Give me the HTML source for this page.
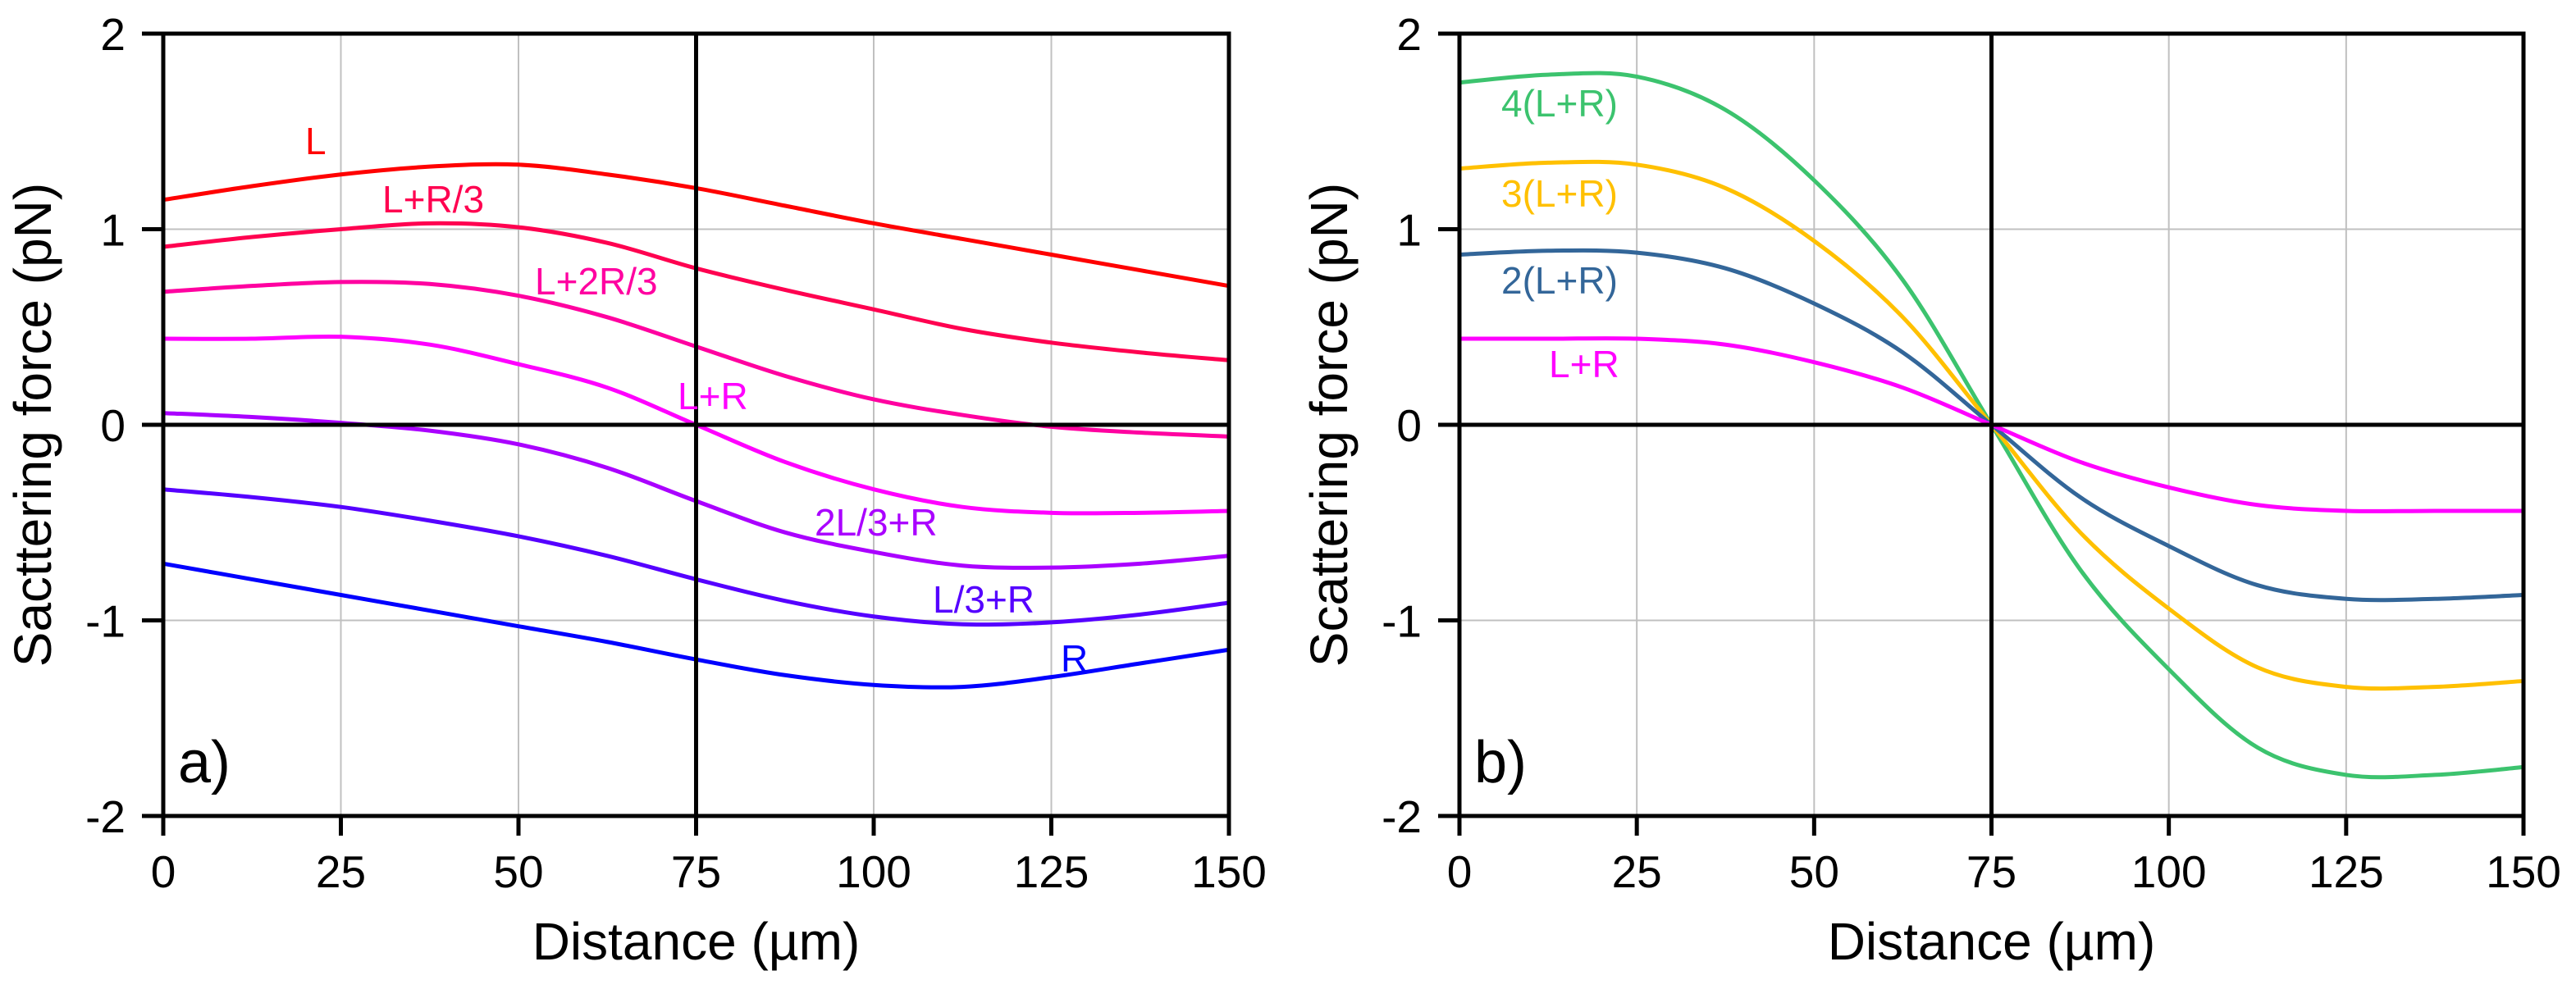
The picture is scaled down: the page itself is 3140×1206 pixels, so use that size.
<!DOCTYPE html>
<html><head><meta charset="utf-8"><style>
html,body{margin:0;padding:0;background:#fff;}
svg{display:block;font-family:"Liberation Sans",Arial,sans-serif;}
</style></head><body>
<svg id="fig" width="3140" height="1206" viewBox="0 0 3140 1206" xmlns="http://www.w3.org/2000/svg">
<g id="panelA"></g>
<g id="panelB"></g>
</svg>
<script>
const xs = [0,12.5,25,37.5,50,62.5,75,87.5,100,112.5,125,137.5,150];
const xTicks = [0,25,50,75,100,125,150];
const yTicks = [-2,-1,0,1,2];
const aL    = [1.15,1.22,1.28,1.32,1.33,1.28,1.21,1.12,1.03,0.95,0.87,0.79,0.71];
const aLR3  = [0.91,0.96,1.00,1.03,1.01,0.93,0.80,0.69,0.59,0.49,0.42,0.37,0.33];
const aL2R3 = [0.68,0.71,0.73,0.72,0.66,0.55,0.40,0.25,0.13,0.05,-0.01,-0.04,-0.06];
const aLR   = [0.44,0.44,0.45,0.41,0.31,0.19,0.0,-0.19,-0.33,-0.42,-0.45,-0.45,-0.44];
const a2L3R = [0.06,0.04,0.01,-0.03,-0.10,-0.22,-0.39,-0.55,-0.65,-0.72,-0.73,-0.71,-0.67];
const aL3R  = [-0.33,-0.37,-0.42,-0.49,-0.57,-0.67,-0.79,-0.90,-0.98,-1.02,-1.01,-0.97,-0.91];
const aR    = [-0.71,-0.79,-0.87,-0.95,-1.03,-1.11,-1.20,-1.28,-1.33,-1.34,-1.29,-1.22,-1.15];
const b1 = [0.44,0.44,0.44,0.41,0.32,0.19,0,-0.19,-0.32,-0.41,-0.44,-0.44,-0.44];
const b2 = [0.87,0.89,0.88,0.80,0.62,0.37,0,-0.37,-0.62,-0.82,-0.89,-0.89,-0.87];
const b3 = [1.31,1.34,1.33,1.21,0.94,0.55,0,-0.55,-0.94,-1.24,-1.34,-1.34,-1.31];
const b4 = [1.75,1.79,1.78,1.61,1.25,0.74,0,-0.74,-1.25,-1.65,-1.79,-1.79,-1.75];

const NS="http://www.w3.org/2000/svg";
function mk(parent,tag,attrs,text){const e=document.createElementNS(NS,tag);for(const k in attrs)e.setAttribute(k,attrs[k]);if(text!==undefined)e.textContent=text;parent.appendChild(e);return e;}

function panel(g,x0,x1,yTitle,series,labels,tag){
  const y0=41,y1=995;
  const sx=v=>x0+(v-0)/150*(x1-x0);
  const sy=v=>y0+(2-v)/4*(y1-y0);
  xTicks.forEach(t=>{if(t>0&&t<150&&t!==75){const l=mk(g,'line',{x1:sx(t),x2:sx(t),y1:y0,y2:y1,stroke:'#c0c0c0','stroke-width':2});
    
    }});
  yTicks.forEach(t=>{if(t===1||t===-1){const l=mk(g,'line',{x1:x0,x2:x1,y1:sy(t),y2:sy(t),stroke:'#c0c0c0','stroke-width':2});
    
    }});
  series.forEach(s=>{
    const pts=s.v.map((v,i)=>[sx(xs[i]),sy(v)]);
    let d='M'+pts[0][0]+','+pts[0][1];
    for(let i=0;i<pts.length-1;i++){
      const p0=pts[Math.max(0,i-1)],p1=pts[i],p2=pts[i+1],p3=pts[Math.min(pts.length-1,i+2)];
      const c1=[p1[0]+(p2[0]-p0[0])/6,p1[1]+(p2[1]-p0[1])/6];
      const c2=[p2[0]-(p3[0]-p1[0])/6,p2[1]-(p3[1]-p1[1])/6];
      d+=` C${c1[0]},${c1[1]} ${c2[0]},${c2[1]} ${p2[0]},${p2[1]}`;
    }
    const p=mk(g,'path',{d:d,fill:'none',stroke:s.c,'stroke-width':5,'stroke-linejoin':'round'});
    
    
  });
  const zx=mk(g,'line',{x1:x0,x2:x1,y1:sy(0),y2:sy(0),stroke:'#000','stroke-width':5});
  
  
  const zy=mk(g,'line',{x1:sx(75),x2:sx(75),y1:y0,y2:y1,stroke:'#000','stroke-width':5});
  
  
  const fr=mk(g,'rect',{x:x0,y:y0,width:x1-x0,height:y1-y0,fill:'none',stroke:'#000','stroke-width':5});
  
  
  xTicks.forEach(t=>{
    const tk=mk(g,'line',{x1:sx(t),x2:sx(t),y1:y1,y2:y1+24,stroke:'#000','stroke-width':5});
    
    
    const tl=mk(g,'text',{x:sx(t),y:1082,'font-size':55,'text-anchor':'middle'},String(t));
    
    
  });
  yTicks.forEach(t=>{
    const tk=mk(g,'line',{x1:x0-26,x2:x0,y1:sy(t),y2:sy(t),stroke:'#000','stroke-width':5});
    
    
    const tl=mk(g,'text',{x:x0-46,y:sy(t)+20,'font-size':55,'text-anchor':'end'},String(t));
    
    
  });
  const xt=mk(g,'text',{x:(x0+x1)/2,y:1170,'font-size':64,'text-anchor':'middle'},'Distance (µm)');
  
  
  const yx=x0-137;
  const yt=mk(g,'text',{x:yx,y:518,'font-size':64,'text-anchor':'middle',transform:`rotate(-90 ${yx} 518)`},yTitle);
  
  
  labels.forEach(l=>{
    const t=mk(g,'text',{x:l.x,y:l.y,'font-size':46,fill:l.c},l.t);
    
    
  });
  const pt=mk(g,'text',{x:x0+18,y:954,'font-size':72},tag);
  
  
}

panel(document.getElementById('panelA'),199,1498,'Sacttering force (pN)',[
  {n:'L',v:aL,c:'#ff0000'},{n:'L-R3',v:aLR3,c:'#ff0050'},{n:'L-2R3',v:aL2R3,c:'#ff00a0'},
  {n:'L-R',v:aLR,c:'#ff00ff'},{n:'2L3-R',v:a2L3R,c:'#aa00ff'},{n:'L3-R',v:aL3R,c:'#5500ff'},{n:'R',v:aR,c:'#0000ff'}],
  [{x:372,y:188,t:'L',c:'#ff0000'},{x:466,y:259,t:'L+R/3',c:'#ff0050'},{x:652,y:359,t:'L+2R/3',c:'#ff00a0'},
   {x:826,y:499,t:'L+R',c:'#ff00ff'},{x:993,y:653,t:'2L/3+R',c:'#aa00ff'},{x:1137,y:747,t:'L/3+R',c:'#5500ff'},{x:1293,y:819,t:'R',c:'#0000ff'}],'a)');

panel(document.getElementById('panelB'),1779,3076,'Scattering force (pN)',[
  {n:'4LR',v:b4,c:'#3cc36e'},{n:'3LR',v:b3,c:'#ffc000'},{n:'2LR',v:b2,c:'#336699'},{n:'LR',v:b1,c:'#ff00ff'}],
  [{x:1830,y:142,t:'4(L+R)',c:'#3cc36e'},{x:1830,y:252,t:'3(L+R)',c:'#ffc000'},{x:1830,y:358,t:'2(L+R)',c:'#336699'},{x:1888,y:460,t:'L+R',c:'#ff00ff'}],'b)');
</script>
</body></html>
